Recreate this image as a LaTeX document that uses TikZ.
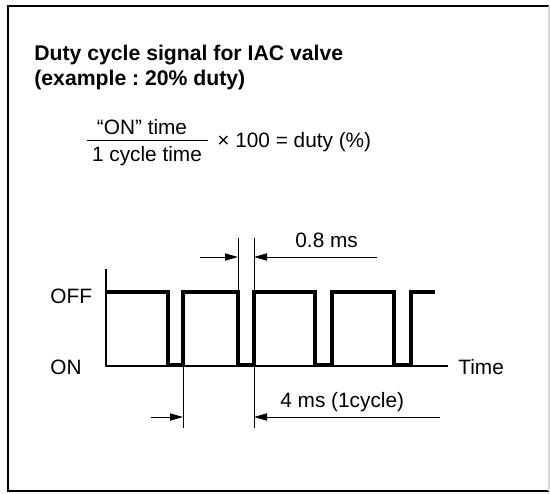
\documentclass[tikz,border=0pt]{standalone}
\usepackage{fontspec}
\setmainfont{Liberation Sans}
\usetikzlibrary{arrows.meta}
\frenchspacing

\begin{document}
\begin{tikzpicture}[x=0.5pt,y=-0.5pt,>={Triangle[length=6.5pt,width=3.6pt]},
      every node/.style={font=\fontsize{10.4}{12.6}\selectfont,inner sep=0pt},
      head/.style={font=\fontsize{10.6}{12.6}\selectfont\bfseries},
      wave/.style={line width=1.6pt},
      level/.style={line width=0.6pt},
      dim/.style={line width=0.5pt}]
      \useasboundingbox (0,0) rectangle (550,493);
      % frame
      \draw[line width=0.9pt] (549,6) -- (8,6) -- (8,491) -- (549,491);
      \draw[black!15,line width=0.6pt] (549,6) -- (549,491);
      % heading and formula
      \node[anchor=base west,head] (title) at (34,60) {Duty cycle signal for IAC valve};
      \node[anchor=base west,head] (example) at (34,85) {(example : 20\% duty)};
      \node[anchor=base] (num) at (142,134) {“ON” time};
      \node[anchor=base] (den) at (147,161) {1 cycle time};
      \coordinate (barL) at (87,140);
      \coordinate (barR) at (208,140);
      \draw[dim] (barL) -- (barR);
      \node[anchor=base west] (rest) at (217,147) {× 100 = duty (\%)};
      % signal: axis, base line and pulses
      \coordinate (top) at (106,269);
      \coordinate (origin) at (106,366);
      \coordinate (end) at (448,366);
      \draw[level] (top) -- (origin) -- (end);
      \draw[wave] (106,292)
            \foreach \f/\r in {168/183,238/254,315/332,394/411}{
              -- (\f,292) -- (\f,365) -- (\r,365) -- (\r,292)}
            -- (435,292);
      \node[anchor=base west] (off) at (50,303) {OFF};
      \node[anchor=base west] (on) at (50,374) {ON};
      \node[anchor=base west] (time) at (458,374) {Time};
      % 0.8 ms
      \foreach \x/\n in {238/a,254/b}{
        \coordinate (up\n) at (\x,238);
        \coordinate (hi\n) at (\x,292);
        \coordinate (mid\n) at (\x,257);
        \draw[dim] (up\n) -- (hi\n);
      }
      \coordinate (inL) at (200,257);
      \coordinate (inR) at (377,257);
      \draw[dim,->] (inL) -- (mida);
      \draw[dim,->] (inR) -- (midb);
      \node[anchor=base west] (short) at (295,247) {0.8 ms};
      % 4 ms (1cycle)
      \foreach \x/\n in {183/a,254/b}{
        \coordinate (lo\n) at (\x,366);
        \coordinate (dn\n) at (\x,428);
        \coordinate (cyc\n) at (\x,417);
        \draw[dim] (lo\n) -- (dn\n);
      }
      \coordinate (cycL) at (151,417);
      \coordinate (cycR) at (440,417);
      \draw[dim,->] (cycL) -- (cyca);
      \draw[dim,->] (cycR) -- (cycb);
      \node[anchor=base west] (cycle) at (280,407) {4 ms (1cycle)};
    \end{tikzpicture}
\end{document}
